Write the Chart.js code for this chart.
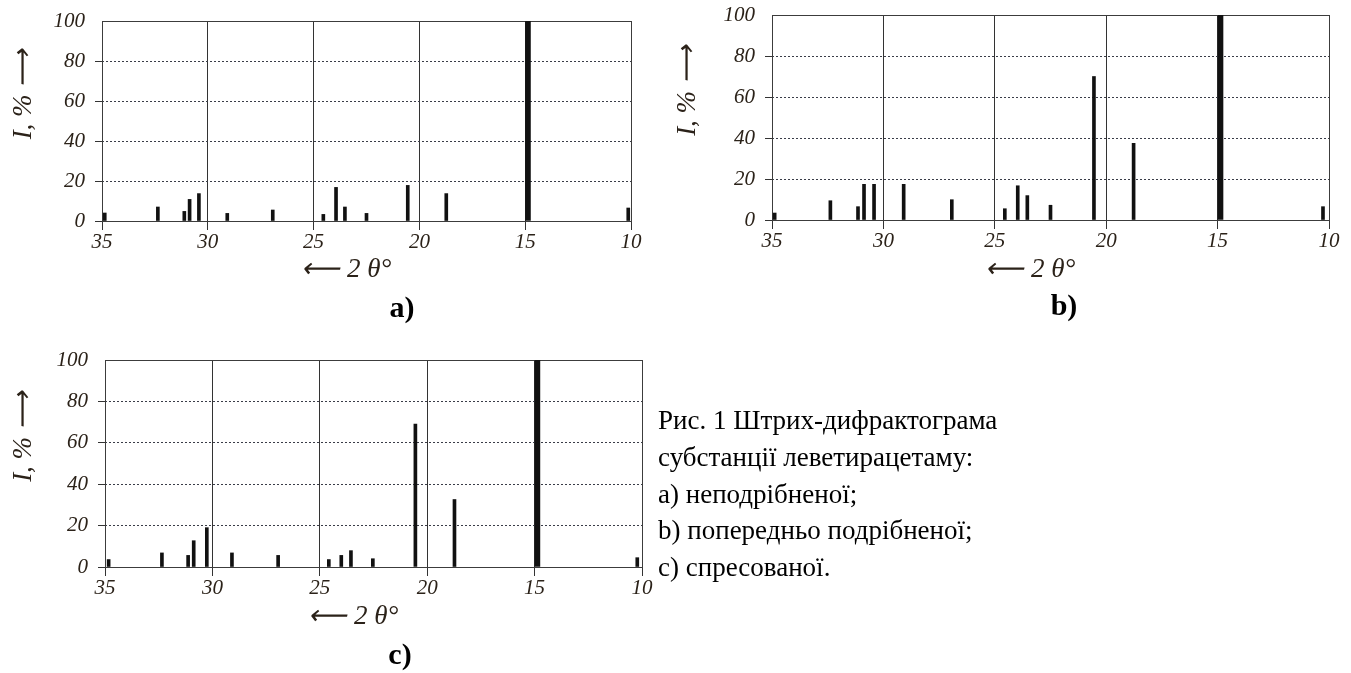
<!DOCTYPE html>
<html><head><meta charset="utf-8">
<script src="https://cdn.jsdelivr.net/npm/chart.js@4.4.1/dist/chart.umd.min.js"></script>
<style>
html,body{margin:0;padding:0;background:#fff;width:1351px;height:673px;overflow:hidden;}
body{position:relative;}
canvas{position:absolute;}
.lbl{position:absolute;font:bold 30px 'Liberation Serif','Times New Roman',serif;color:#000;transform:translate(-50%,-50%);white-space:nowrap;}
.cap{position:absolute;left:658px;top:402px;font:27px 'Liberation Serif','Times New Roman',serif;line-height:36.8px;color:#000;white-space:nowrap;}
</style></head><body>
<canvas id="ca"></canvas>
<canvas id="cb"></canvas>
<canvas id="cc"></canvas>
<div class="lbl" style="left:402px;top:307px;">a)</div>
<div class="lbl" style="left:1064px;top:305px;">b)</div>
<div class="lbl" style="left:400px;top:654px;">c)</div>
<div class="cap">Рис. 1 Штрих-дифрактограма<br>субстанції леветирацетаму:<br>a) неподрібненої;<br>b) попередньо подрібненої;<br>c) спресованої.</div>
<script>
// ---- data ----
const xTicks = [35, 30, 25, 20, 15, 10];
const yTicks = [0, 20, 40, 60, 80, 100];
const anglesA = [34.87, 32.36, 31.11, 30.86, 30.42, 29.08, 26.93, 24.54, 23.94, 23.52, 22.5, 20.55, 18.73, 14.87, 10.13];
const intensA = [4, 7, 4.8, 10.8, 13.7, 3.8, 5.5, 3.3, 16.8, 7, 3.8, 17.8, 13.7, 100, 6.5];
const anglesB = [34.88, 32.38, 31.14, 30.87, 30.42, 29.09, 26.93, 24.55, 23.97, 23.54, 22.5, 20.55, 18.77, 14.87, 10.27];
const intensB = [3.4, 9.4, 6.5, 17.4, 17.4, 17.4, 9.9, 5.5, 16.7, 11.9, 7.2, 70, 37.4, 100, 6.5];
const anglesC = [34.83, 32.35, 31.13, 30.87, 30.26, 29.09, 26.94, 24.58, 24.0, 23.55, 22.53, 20.55, 18.73, 14.87, 10.22];
const intensC = [3.6, 6.8, 5.6, 12.7, 19, 6.8, 5.6, 3.6, 5.6, 7.9, 4, 69, 32.6, 100, 4.5];
const mainPeak = 13;
const yTitle = "\u2003\u2003I, % \u27F6";
const xTitle = "\u27F5 2 \u03B8\u00B0\u2003\u2002";

const framePlugin = {
  id: 'frame',
  beforeDatasetsDraw(chart) {
    const {ctx, chartArea: a} = chart;
    ctx.save();
    ctx.strokeStyle = '#3c3c3c';
    ctx.lineWidth = 1;
    ctx.strokeRect(Math.round(a.left) + 0.5, Math.round(a.top) + 0.5,
      Math.round(a.right) - Math.round(a.left), Math.round(a.bottom) - Math.round(a.top));
    ctx.restore();
  }
};

const labelColor = '#2b2219';
const tickFont = {family: "'Liberation Serif','Times New Roman',serif", style: 'italic', size: 21};
const titleFont = {family: "'Liberation Serif','Times New Roman',serif", style: 'italic', size: 27, lineHeight: 1.2};

function makeChart(id, angles, intens, g) {
  const yW = 100, xH = 70, padR = 20, padT = 36;
  const plotW = g.plotR - g.plotL;
  const top = g.plotT - padT;
  const cv = document.getElementById(id);
  cv.width = yW + plotW + padR;
  cv.height = g.plotB + xH - top;
  cv.style.left = (g.plotL - yW) + 'px';
  cv.style.top = top + 'px';
  const thin = [], strong = [];
  angles.forEach((a, i) => (i === mainPeak ? strong : thin).push({x: a, y: intens[i]}));
  const ds = (data, w) => ({data, backgroundColor: '#111', borderWidth: 0, barThickness: w, grouped: false});
  return new Chart(cv, {
    type: 'bar',
    data: {datasets: [ds(thin, 3), ds(strong, 5)]},
    plugins: [framePlugin],
    options: {
      responsive: false, animation: false, devicePixelRatio: 1,
      layout: {padding: {top: padT, right: padR, left: 0, bottom: 0}},
      plugins: {legend: {display: false}, tooltip: {enabled: false}},
      scales: {
        x: {
          type: 'linear', min: 10, max: 35, reverse: true, offset: false,
          afterBuildTicks: s => { s.ticks = xTicks.map(v => ({value: v})); },
          afterFit: s => { s.height = xH; },
          grid: {offset: false, color: '#333', lineWidth: 1, tickLength: 9, tickColor: '#333'},
          border: {display: false},
          ticks: {font: tickFont, color: labelColor, padding: 0, maxRotation: 0, autoSkip: false},
          title: {display: true, text: xTitle, font: titleFont, color: labelColor,
                  padding: {top: 0, bottom: g.xTitlePad}}
        },
        y: {
          min: 0, max: 100,
          afterBuildTicks: s => { s.ticks = yTicks.map(v => ({value: v})); },
          afterFit: s => { s.width = yW; },
          grid: {
            color: c => (c.tick && (c.tick.value === 0 || c.tick.value === 100)) ? 'rgba(0,0,0,0)' : '#3a3d48',
            tickColor: c => (c.tick && c.tick.value === 100) ? 'rgba(0,0,0,0)' : '#333',
            lineWidth: 1, tickLength: 7
          },
          border: {display: false, dash: [2, 2]},
          ticks: {font: tickFont, color: labelColor, padding: 10},
          title: {display: true, text: yTitle, font: titleFont, color: labelColor,
                  padding: {top: g.yTitlePad, bottom: 0}}
        }
      }
    }
  });
}

makeChart('ca', anglesA, intensA, {plotL: 102, plotR: 631, plotT: 21, plotB: 221, xTitlePad: 5, yTitlePad: 6});
makeChart('cb', anglesB, intensB, {plotL: 772, plotR: 1329, plotT: 15, plotB: 220, xTitlePad: 4, yTitlePad: 0});
makeChart('cc', anglesC, intensC, {plotL: 105, plotR: 642, plotT: 360, plotB: 567, xTitlePad: 4, yTitlePad: 3});
</script>
</body></html>
